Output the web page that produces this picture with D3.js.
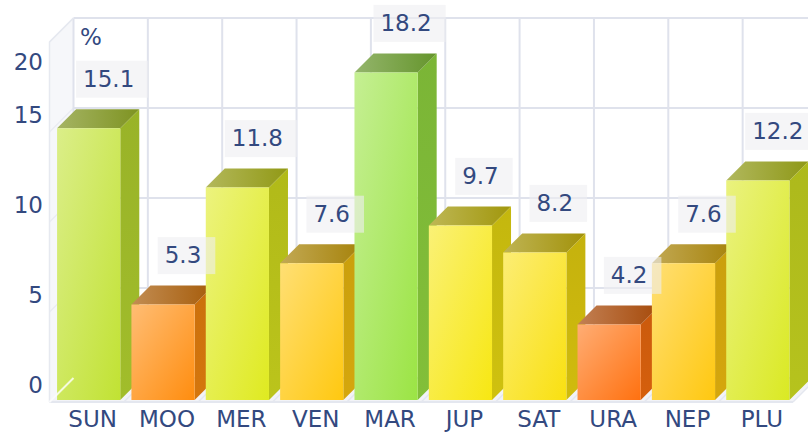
<!DOCTYPE html>
<html>
<head>
<meta charset="utf-8">
<script src="https://cdn.jsdelivr.net/npm/d3@7"></script>
<style>
  html, body { margin: 0; padding: 0; background: #fff; }
  svg { display: block; font-family: "DejaVu Sans", sans-serif; }
</style>
</head>
<body>
<div id="chart"></div>
<script>
// planet share chart, drawn as 3d columns
const categories = ["SUN", "MOO", "MER", "VEN", "MAR", "JUP", "SAT", "URA", "NEP", "PLU"];
const values = [15.1, 5.3, 11.8, 7.6, 18.2, 9.7, 8.2, 4.2, 7.6, 12.2];
const yTicks = [0, 5, 10, 15, 20];
const unitLabel = "%";

const width = 808, height = 433;
const depth = 24;          // wall depth (px, projected 45deg)
const barZ0 = 2, barZ1 = 21;
const fontSize = 23;
const textColor = "#33497f";
const gridColor = "#dfe2ec";

const svg = d3.select("#chart").append("svg")
  .attr("width", width)
  .attr("height", height);
const defs = svg.append("defs");

const x = d3.scaleBand()
  .domain(categories)
  .range([49.5, 793])
  .paddingInner(0.15)
  .paddingOuter(0.075);
const y = d3.scaleLinear().domain([0, 20]).range([402, 42]);

// simple oblique projection: depth moves right and up
const P = (px, py, z) => [px + z, py - z];
const poly = pts => pts.map(p => p.join(",")).join(" ");

const color = d3.scaleLinear()
  .domain([4, 5.5, 7.6, 8.2, 10, 12, 15, 18.2])
  .range(["#ff6c10", "#ff920f", "#ffc810", "#f9e010", "#f6e812", "#dcea22", "#c2e232", "#9be444"]);

const xl = x.range()[0], xr = x.range()[1];
const y0 = y(0), yMax = y(20);

// walls
const walls = svg.append("g");
walls.append("polygon")
  .attr("points", poly([P(xl, yMax, depth), P(xr, yMax, depth), P(xr, y0, depth), P(xl, y0, depth)]))
  .attr("fill", "#fff");
walls.append("polygon")
  .attr("points", poly([P(xl, yMax, 0), P(xl, yMax, depth), P(xl, y0, depth), P(xl, y0, 0)]))
  .attr("fill", "#f6f7fa");
walls.append("polygon")
  .attr("points", poly([P(xl, y0, 0), P(xr, y0, 0), P(xr, y0, depth), P(xl, y0, depth)]))
  .attr("fill", "#f2f3f7");

// back wall grid
yTicks.forEach(t => {
  walls.append("line")
    .attr("x1", P(xl, y(t), depth)[0]).attr("y1", P(xl, y(t), depth)[1])
    .attr("x2", P(xr, y(t), depth)[0]).attr("y2", P(xr, y(t), depth)[1])
    .attr("stroke", gridColor).attr("stroke-width", 2);
  walls.append("line")
    .attr("x1", P(xl, y(t), 0)[0]).attr("y1", P(xl, y(t), 0)[1])
    .attr("x2", P(xl, y(t), depth)[0]).attr("y2", P(xl, y(t), depth)[1])
    .attr("stroke", "#eaecf2").attr("stroke-width", 1.5);
});
const bounds = d3.range(categories.length + 1).map(i => xl + i * x.step());
bounds.forEach(b => {
  walls.append("line")
    .attr("x1", P(b, yMax, depth)[0]).attr("y1", P(b, yMax, depth)[1])
    .attr("x2", P(b, y0, depth)[0]).attr("y2", P(b, y0, depth)[1])
    .attr("stroke", gridColor).attr("stroke-width", 2);
  walls.append("line")
    .attr("x1", P(b, y0, 0)[0]).attr("y1", P(b, y0, 0)[1])
    .attr("x2", P(b, y0, depth)[0]).attr("y2", P(b, y0, depth)[1])
    .attr("stroke", "#e4e7ef").attr("stroke-width", 1.5);
});
walls.append("polyline")
  .attr("points", poly([P(xl, y0, 0), P(xl, yMax, 0), P(xl, yMax, depth)]))
  .attr("fill", "none").attr("stroke", "#e6e9f0").attr("stroke-width", 1.5);
walls.append("line")
  .attr("x1", xl).attr("y1", y0).attr("x2", xr).attr("y2", y0)
  .attr("stroke", "#e4e7ef").attr("stroke-width", 2);

// bars
const bars = svg.append("g");
categories.forEach((c, i) => {
  const v = values[i];
  const base = d3.color(color(v));
  const x0 = x(c), x1 = x0 + x.bandwidth();
  const yt = y(v);

  const gf = defs.append("linearGradient").attr("id", "gf" + i)
    .attr("x1", 0).attr("y1", 0).attr("x2", 1).attr("y2", 1);
  gf.append("stop").attr("offset", "0%").attr("stop-color", d3.interpolateRgb(base, "#fff")(0.42));
  gf.append("stop").attr("offset", "100%").attr("stop-color", base);

  const gt = defs.append("linearGradient").attr("id", "gt" + i)
    .attr("x1", 0).attr("y1", 0).attr("x2", 1).attr("y2", 0);
  gt.append("stop").attr("offset", "0%").attr("stop-color", d3.interpolateRgb(base.darker(0.5), "#aaa")(0.45));
  gt.append("stop").attr("offset", "100%").attr("stop-color", base.darker(1.2));

  const gs = defs.append("linearGradient").attr("id", "gs" + i)
    .attr("x1", 0).attr("y1", 0).attr("x2", 0).attr("y2", 1);
  gs.append("stop").attr("offset", "0%").attr("stop-color", base.darker(0.65));
  gs.append("stop").attr("offset", "100%").attr("stop-color", base.darker(0.5));

  bars.append("polygon")
    .attr("points", poly([P(x1, yt, barZ0), P(x1, yt, barZ1), P(x1, y0, barZ1), P(x1, y0, barZ0)]))
    .attr("fill", `url(#gs${i})`);
  bars.append("polygon")
    .attr("points", poly([P(x0, yt, barZ0), P(x1, yt, barZ0), P(x1, yt, barZ1), P(x0, yt, barZ1)]))
    .attr("fill", `url(#gt${i})`);
  bars.append("polygon")
    .attr("points", poly([P(x0, yt, barZ0), P(x1, yt, barZ0), P(x1, y0, barZ0), P(x0, y0, barZ0)]))
    .attr("fill", `url(#gf${i})`);
});

// left wall / floor seam shows through
svg.append("line")
  .attr("x1", P(xl, y0, 0)[0]).attr("y1", P(xl, y0, 0)[1])
  .attr("x2", P(xl, y0, depth)[0]).attr("y2", P(xl, y0, depth)[1])
  .attr("stroke", "#fff").attr("stroke-opacity", 0.8).attr("stroke-width", 2);

// value labels
const labels = svg.append("g").attr("font-size", fontSize).attr("fill", textColor);
categories.forEach((c, i) => {
  const cx = x(c) + x.bandwidth() / 2 + 22;
  const cy = y(values[i]) - 51.5;
  const box = labels.append("rect");
  const t = labels.append("text")
    .attr("x", cx).attr("y", cy)
    .attr("dy", "0.36em")
    .attr("text-anchor", "middle")
    .text(values[i].toFixed(1));
  const w = t.node().getComputedTextLength();
  box.attr("x", cx - w / 2 - 7).attr("y", cy - 18)
    .attr("width", w + 21).attr("height", 37)
    .attr("fill", "#eeeff1").attr("fill-opacity", 0.6);
});

// y axis labels (top one kept clear of the unit)
svg.append("g").attr("font-size", fontSize).attr("fill", textColor)
  .selectAll("text").data(yTicks).join("text")
  .attr("x", 43)
  .attr("y", d => Math.max(y(d) - 17, 61.5))
  .attr("dy", "0.36em")
  .attr("text-anchor", "end")
  .text(d => d);

svg.append("text")
  .attr("x", 80).attr("y", 37).attr("dy", "0.36em")
  .attr("font-size", fontSize).attr("fill", textColor)
  .text(unitLabel);

// category labels
svg.append("g").attr("font-size", fontSize).attr("fill", textColor)
  .selectAll("text").data(categories).join("text")
  .attr("x", d => x(d) + x.bandwidth() / 2 + 6)
  .attr("y", 418.5)
  .attr("dy", "0.36em")
  .attr("text-anchor", "middle")
  .text(d => d);
</script>
</body>
</html>
